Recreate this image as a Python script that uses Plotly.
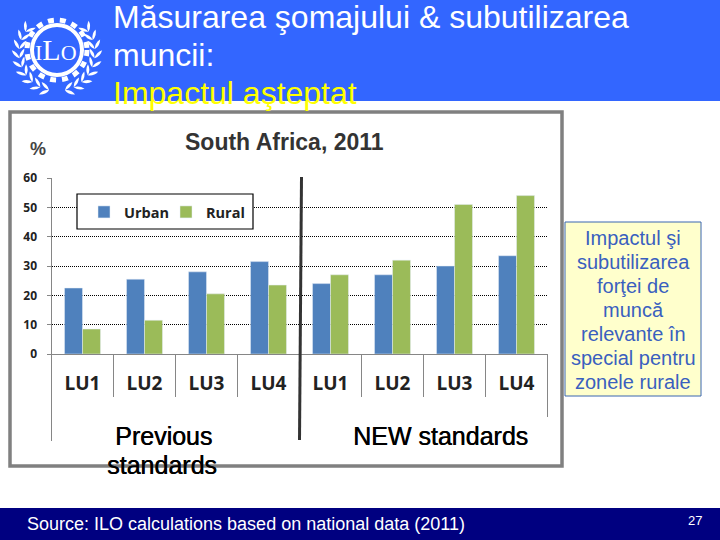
import math
import plotly.graph_objects as go

W, H = 720, 540

# values
group_labels = ["LU1", "LU2", "LU3", "LU4", "LU1", "LU2", "LU3", "LU4"]
urban_values = [22.5, 25.5, 28, 31.5, 24, 27, 30, 33.5]
rural_values = [8.5, 11.5, 20.5, 23.5, 27, 32, 51, 54]
y_ticks = [0, 10, 20, 30, 40, 50, 60]

title_lines = ["Măsurarea şomajului & subutilizarea", "muncii:", "Impactul aşteptat"]
callout_lines = ["Impactul şi", "subutilizarea", "forţei de", "muncă", "relevante în", "special pentru", "zonele rurale"]

#region funcs
def px2x(_x):
    return _x / W

def px2y(_y):
    return 1 - _y / H

def addBox(_fig, _x0, _y0, _x1, _y1, _fill=None, _line=None, _width=0, _type="rect", _layer="below", _dash=None):
    _fig.add_shape(type=_type, xref="paper", yref="paper", x0=px2x(_x0), x1=px2x(_x1), y0=px2y(_y0), y1=px2y(_y1),
                   fillcolor=_fill, line=dict(color=_line, width=_width, dash=_dash), layer=_layer)

def addText(_fig, _x, _y, _text, _size, _color="black", _anchor="left", _font="Liberation Sans", _shadow=None):
    _fig.add_annotation(xref="paper", yref="paper", x=px2x(_x), y=px2y(_y), text=_text, showarrow=False,
                        xanchor=_anchor, yanchor="middle",
                        font=dict(family=_font, size=_size, color=_color, shadow=_shadow))

def addLeaf(_fig, _x, _y, _ang, _len=11, _wid=3):
    # small lens shape starting at (_x, _y) pointing along _ang
    a = math.radians(_ang)
    tx, ty = _x + _len * math.cos(a), _y + _len * math.sin(a)
    mx, my = (_x + tx) / 2, (_y + ty) / 2
    nx, ny = -math.sin(a) * _wid, math.cos(a) * _wid
    p = "M {} {} Q {} {} {} {} Q {} {} {} {} Z".format(
        px2x(_x), px2y(_y), px2x(mx + nx), px2y(my + ny), px2x(tx), px2y(ty),
        px2x(mx - nx), px2y(my - ny), px2x(_x), px2y(_y))
    _fig.add_shape(type="path", xref="paper", yref="paper", path=p, fillcolor="white", line=dict(width=0), layer="above")

def addLogo(_fig):
    cx, cy = 57, 50
    # gear ring with teeth
    addBox(_fig, cx - 30, cy - 30, cx + 30, cy + 30, _line="white", _width=5, _type="circle", _layer="above", _dash="6px,6px")
    addBox(_fig, cx - 25, cy - 25, cx + 25, cy + 25, _line="white", _width=4, _type="circle", _layer="above")
    # laurel branches, from the bottom up each side
    for deg in range(78, -45, -14):
        rad = math.radians(deg)
        dx, dy = 38 * math.cos(rad), 38 * math.sin(rad) + 3
        up = deg - 90
        addLeaf(_fig, cx + dx, cy + dy, up + 35)
        addLeaf(_fig, cx + dx, cy + dy, up - 35)
        addLeaf(_fig, cx - dx, cy + dy, 180 - up - 35)
        addLeaf(_fig, cx - dx, cy + dy, 180 - up + 35)
    addText(_fig, cx - 1, cy - 1, "I<span style='font-size:30px'>L</span>O", 22, "white", "center", "Liberation Serif")
#regionend funcs

fig = go.Figure()
fig.add_trace(go.Bar(x=list(range(8)), y=urban_values, name="<b>Urban</b>", marker_color="#4F81BD"))
fig.add_trace(go.Bar(x=list(range(8)), y=rural_values, name="<b>Rural</b>", marker_color="#9BBB59"))

fig.update_layout(
    width=W, height=H, margin=dict(l=0, r=0, t=0, b=0, autoexpand=False),
    paper_bgcolor="white", plot_bgcolor="rgba(0,0,0,0)",
    barmode="group", bargap=0.42, bargroupgap=0,
    font=dict(family="Liberation Sans"),
    legend=dict(orientation="h", x=px2x(84), y=px2y(196), xanchor="left", yanchor="top",
                bgcolor="rgba(0,0,0,0)", borderwidth=0,
                font=dict(family="Open Sans", size=14.5, color="#222222"),
                itemwidth=30, entrywidth=37, entrywidthmode="pixels"),
    xaxis=dict(domain=[px2x(51.5), px2x(547.5)], range=[-0.5, 7.5], tickmode="array", tickvals=list(range(8)),
               ticktext=group_labels, showgrid=False, zeroline=False, showline=True, linecolor="#868686", linewidth=1,
               ticks="", ticklen=0, ticklabelstandoff=12, automargin=False,
               tickfont=dict(family="Open Sans", size=19, color="#222222", weight="bold")),
    yaxis=dict(domain=[px2y(354), px2y(178)], range=[0, 60], tickmode="array", tickvals=y_ticks,
               showgrid=True, gridcolor="black", griddash="1px,1px", gridwidth=1, zeroline=False,
               showline=True, linecolor="#868686", linewidth=1, ticks="outside", ticklen=4, tickcolor="#868686",
               ticklabelstandoff=7, automargin=False,
               tickfont=dict(family="Open Sans", size=12, color="#222222", weight="bold")),
)

# slide background
addBox(fig, 0, 0, W, 101, _fill="#3366FF")
addBox(fig, 0, 508, W, H, _fill="#000080")
addBox(fig, 10, 112, 562, 466, _fill="white", _line="#808080", _width=3.5)
addBox(fig, 565, 222, 701, 396, _fill="#FFFFCC", _line="#3A66B0", _width=1)

# white legend box, the legend itself sits on top of it
addBox(fig, 77, 194, 253, 229, _fill="white", _line="black", _width=1.2, _layer="above")

# category separators under the axis
for i in range(9):
    x_sep = 51.5 + i * 62
    bottom = 441 if i == 0 else (417 if i == 8 else 397)
    if i == 4:
        continue
    fig.add_shape(type="line", xref="paper", yref="paper", x0=px2x(x_sep), x1=px2x(x_sep), y0=px2y(354), y1=px2y(bottom),
                  line=dict(color="#868686", width=1), layer="below")

# dark divider between old and new standards
fig.add_shape(type="line", xref="paper", yref="paper", x0=px2x(301.5), x1=px2x(299.5), y0=px2y(177), y1=px2y(440),
              line=dict(color="#333333", width=3), layer="above")

addLogo(fig)

for i, line in enumerate(title_lines):
    addText(fig, 111, 17 + i * 38, line, 32, "#FFFF00" if i == 2 else "white")

addText(fig, 284.5, 142, "<b>South Africa, 2011</b>", 23, "#333333", "center")
addText(fig, 38, 149, "<b>%</b>", 18, "#444444", "center")
# these labels look heavier than regular in the reference
addText(fig, 163, 436, "Previous", 25, "black", "center", _shadow="0.5px 0 0 black")
addText(fig, 162, 465, "standards", 25, "black", "center", _shadow="0.5px 0 0 black")
addText(fig, 440, 436, "NEW standards", 25, "black", "center", _shadow="0.5px 0 0 black")
addText(fig, 25, 524, "Source: ILO calculations based on national data (2011)", 18, "white")
addText(fig, 695, 520, "27", 13, "white", "center")

for i, line in enumerate(callout_lines):
    addText(fig, 633, 238 + i * 24, line, 20, "#3A5FBF", "center")

fig.write_html("out.html", config=dict(displayModeBar=False),
               post_script="document.body.style.margin='0';document.body.style.overflow='hidden';")
